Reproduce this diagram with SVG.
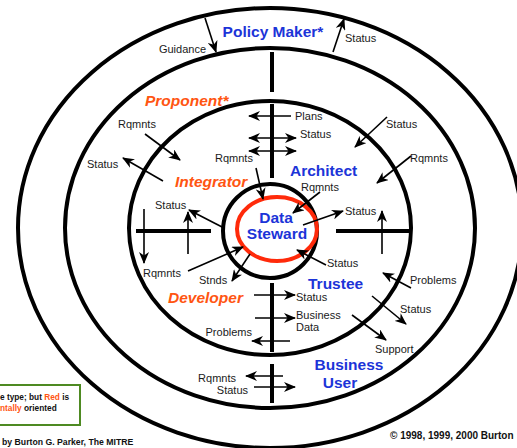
<svg xmlns="http://www.w3.org/2000/svg" width="517" height="448" viewBox="0 0 517 448">
<style>
.ring{fill:none;stroke:#000;stroke-width:4}
.div{stroke:#000;stroke-width:4;fill:none}
.ar{stroke:#000;stroke-width:1.6;fill:none;marker-end:url(#ah)}
.ar2{stroke:#000;stroke-width:1.6;fill:none;marker-end:url(#ah);marker-start:url(#ahs)}
.lb{font-family:"Liberation Sans",Arial,sans-serif;font-size:11px;fill:#1a1a1a}
.bl{font-family:"Liberation Sans",Arial,sans-serif;font-size:15.5px;font-weight:bold;fill:#1c34d8}
.or{font-family:"Liberation Sans",Arial,sans-serif;font-size:15.5px;font-weight:bold;font-style:italic;fill:#ff5512}
.ft{font-family:"Liberation Sans",Arial,sans-serif;font-size:8.7px;font-weight:bold;fill:#111}
.fc{font-family:"Liberation Sans",Arial,sans-serif;font-size:10px;font-weight:bold;fill:#111}
.fb{font-family:"Liberation Sans",Arial,sans-serif;font-size:8.3px;font-weight:bold;fill:#111}
</style>
<defs>
<marker id="ah" viewBox="0 0 12 10" refX="11" refY="5" markerWidth="12" markerHeight="10" markerUnits="userSpaceOnUse" orient="auto">
<path d="M0,0 L12,5 L0,10 L3.5,5 z" fill="#000"/>
</marker>
<marker id="ahs" viewBox="0 0 12 10" refX="1" refY="5" markerWidth="12" markerHeight="10" markerUnits="userSpaceOnUse" orient="auto">
<path d="M12,0 L0,5 L12,10 L8.5,5 z" fill="#000"/>
</marker>
</defs>
<rect width="517" height="448" fill="#fff"/>
<g id="rings">
<ellipse class="ring" cx="270" cy="228" rx="252" ry="220"/>
<ellipse class="ring" cx="270" cy="228" rx="205" ry="180"/>
<ellipse class="ring" cx="270" cy="228" rx="141" ry="127"/>
<circle class="ring" cx="270" cy="231" r="47"/>
<ellipse cx="277" cy="229" rx="40" ry="32" fill="none" stroke="#ff2a0a" stroke-width="4"/>
</g>
<g id="dividers">
<line class="div" x1="272" y1="52" x2="272" y2="92"/>
<line class="div" x1="272" y1="104" x2="272" y2="178"/>
<line class="div" x1="136" y1="231" x2="211" y2="231"/>
<line class="div" x1="336" y1="231" x2="411" y2="231"/>
<line class="div" x1="272" y1="283" x2="272" y2="352"/>
<line class="div" x1="272" y1="364" x2="272" y2="403"/>
</g>
<g id="connectors">
<line class="ar" x1="205" y1="18" x2="216" y2="52"/>
<line class="ar" x1="333" y1="52" x2="344" y2="19"/>
<line class="ar" x1="145" y1="134" x2="180" y2="160"/>
<line class="ar" x1="163" y1="181" x2="123" y2="158"/>
<line class="ar" x1="291" y1="116" x2="249" y2="116"/>
<line class="ar2" x1="249" y1="138" x2="296" y2="138"/>
<line class="ar2" x1="249" y1="151" x2="296" y2="151"/>
<line class="ar" x1="256" y1="168" x2="263" y2="199"/>
<line class="ar" x1="320" y1="192" x2="293" y2="213"/>
<line class="ar" x1="303" y1="225" x2="343" y2="211"/>
<line class="ar" x1="387" y1="117" x2="355" y2="147"/>
<line class="ar" x1="411" y1="156" x2="377" y2="183"/>
<line class="ar" x1="382" y1="254" x2="382" y2="211"/>
<line class="ar" x1="326" y1="265" x2="297" y2="250"/>
<line class="ar" x1="411" y1="288" x2="383" y2="273"/>
<line class="ar" x1="224" y1="228" x2="189" y2="210"/>
<line class="ar" x1="144" y1="209" x2="144" y2="263"/>
<line class="ar" x1="188" y1="254" x2="188" y2="212"/>
<line class="ar" x1="188" y1="271" x2="243" y2="247"/>
<line class="ar" x1="250" y1="254" x2="232" y2="281"/>
<line class="ar" x1="254" y1="295" x2="295" y2="295"/>
<line class="ar" x1="255" y1="318" x2="295" y2="318"/>
<line class="ar" x1="290" y1="341" x2="252" y2="341"/>
<line class="ar" x1="283" y1="376" x2="246" y2="376"/>
<line class="ar" x1="254" y1="387" x2="295" y2="387"/>
<line class="ar" x1="372" y1="296" x2="406" y2="324"/>
<line class="ar" x1="352" y1="315" x2="386" y2="340"/>
</g>
<g id="policy-maker">
<text class="bl" x="273" y="37" text-anchor="middle">Policy Maker*</text>
<text class="lb" x="206" y="53" text-anchor="end">Guidance</text>
<text class="lb" x="345" y="42">Status</text>
</g>
<g id="proponent">
<text class="or" x="145" y="106">Proponent*</text>
<text class="lb" x="118" y="128">Rqmnts</text>
<text class="lb" x="87" y="168">Status</text>
<text class="lb" x="386" y="128">Status</text>
<text class="lb" x="410" y="162">Rqmnts</text>
<text class="lb" x="410" y="284">Problems</text>
<text class="lb" x="400" y="313">Status</text>
</g>
<g id="integrator">
<text class="or" x="175" y="187">Integrator</text>
<text class="lb" x="155" y="209">Status</text>
<text class="lb" x="143" y="277">Rqmnts</text>
</g>
<g id="architect">
<text class="bl" x="290" y="176">Architect</text>
<text class="lb" x="295" y="120">Plans</text>
<text class="lb" x="300" y="138">Status</text>
<text class="lb" x="215" y="162">Rqmnts</text>
<text class="lb" x="301" y="191">Rqmnts</text>
<text class="lb" x="345" y="215">Status</text>
</g>
<g id="data-steward">
<text class="bl" x="276" y="223" text-anchor="middle">Data</text>
<text class="bl" x="277" y="239" text-anchor="middle">Steward</text>
</g>
<g id="trustee">
<text class="bl" x="308" y="289">Trustee</text>
<text class="lb" x="327" y="267">Status</text>
<text class="lb" x="296" y="301">Status</text>
<text class="lb" x="296" y="319">Business</text>
<text class="lb" x="296" y="331">Data</text>
</g>
<g id="developer">
<text class="or" x="168" y="303">Developer</text>
<text class="lb" x="199" y="284">Stnds</text>
<text class="lb" x="252" y="336" text-anchor="end">Problems</text>
</g>
<g id="business-user">
<text class="bl" x="349" y="370" text-anchor="middle">Business</text>
<text class="bl" x="340" y="388" text-anchor="middle">User</text>
<text class="lb" x="375" y="353">Support</text>
<text class="lb" x="236" y="382" text-anchor="end">Rqmnts</text>
<text class="lb" x="248" y="394" text-anchor="end">Status</text>
</g>
<g id="footer">
<rect x="-2" y="385" width="82" height="40" fill="none" stroke="#4e8a22" stroke-width="2"/>
<text class="fb" x="0" y="400">e type; but <tspan fill="#ff5512">Red</tspan> is</text>
<text class="fb" x="0" y="411"><tspan fill="#ff5512">ntally</tspan> oriented</text>
<text class="ft" x="2" y="445">by Burton G. Parker, The MITRE</text>
<text class="fc" x="390" y="439">© 1998, 1999, 2000  Burton</text>
</g>
</svg>
